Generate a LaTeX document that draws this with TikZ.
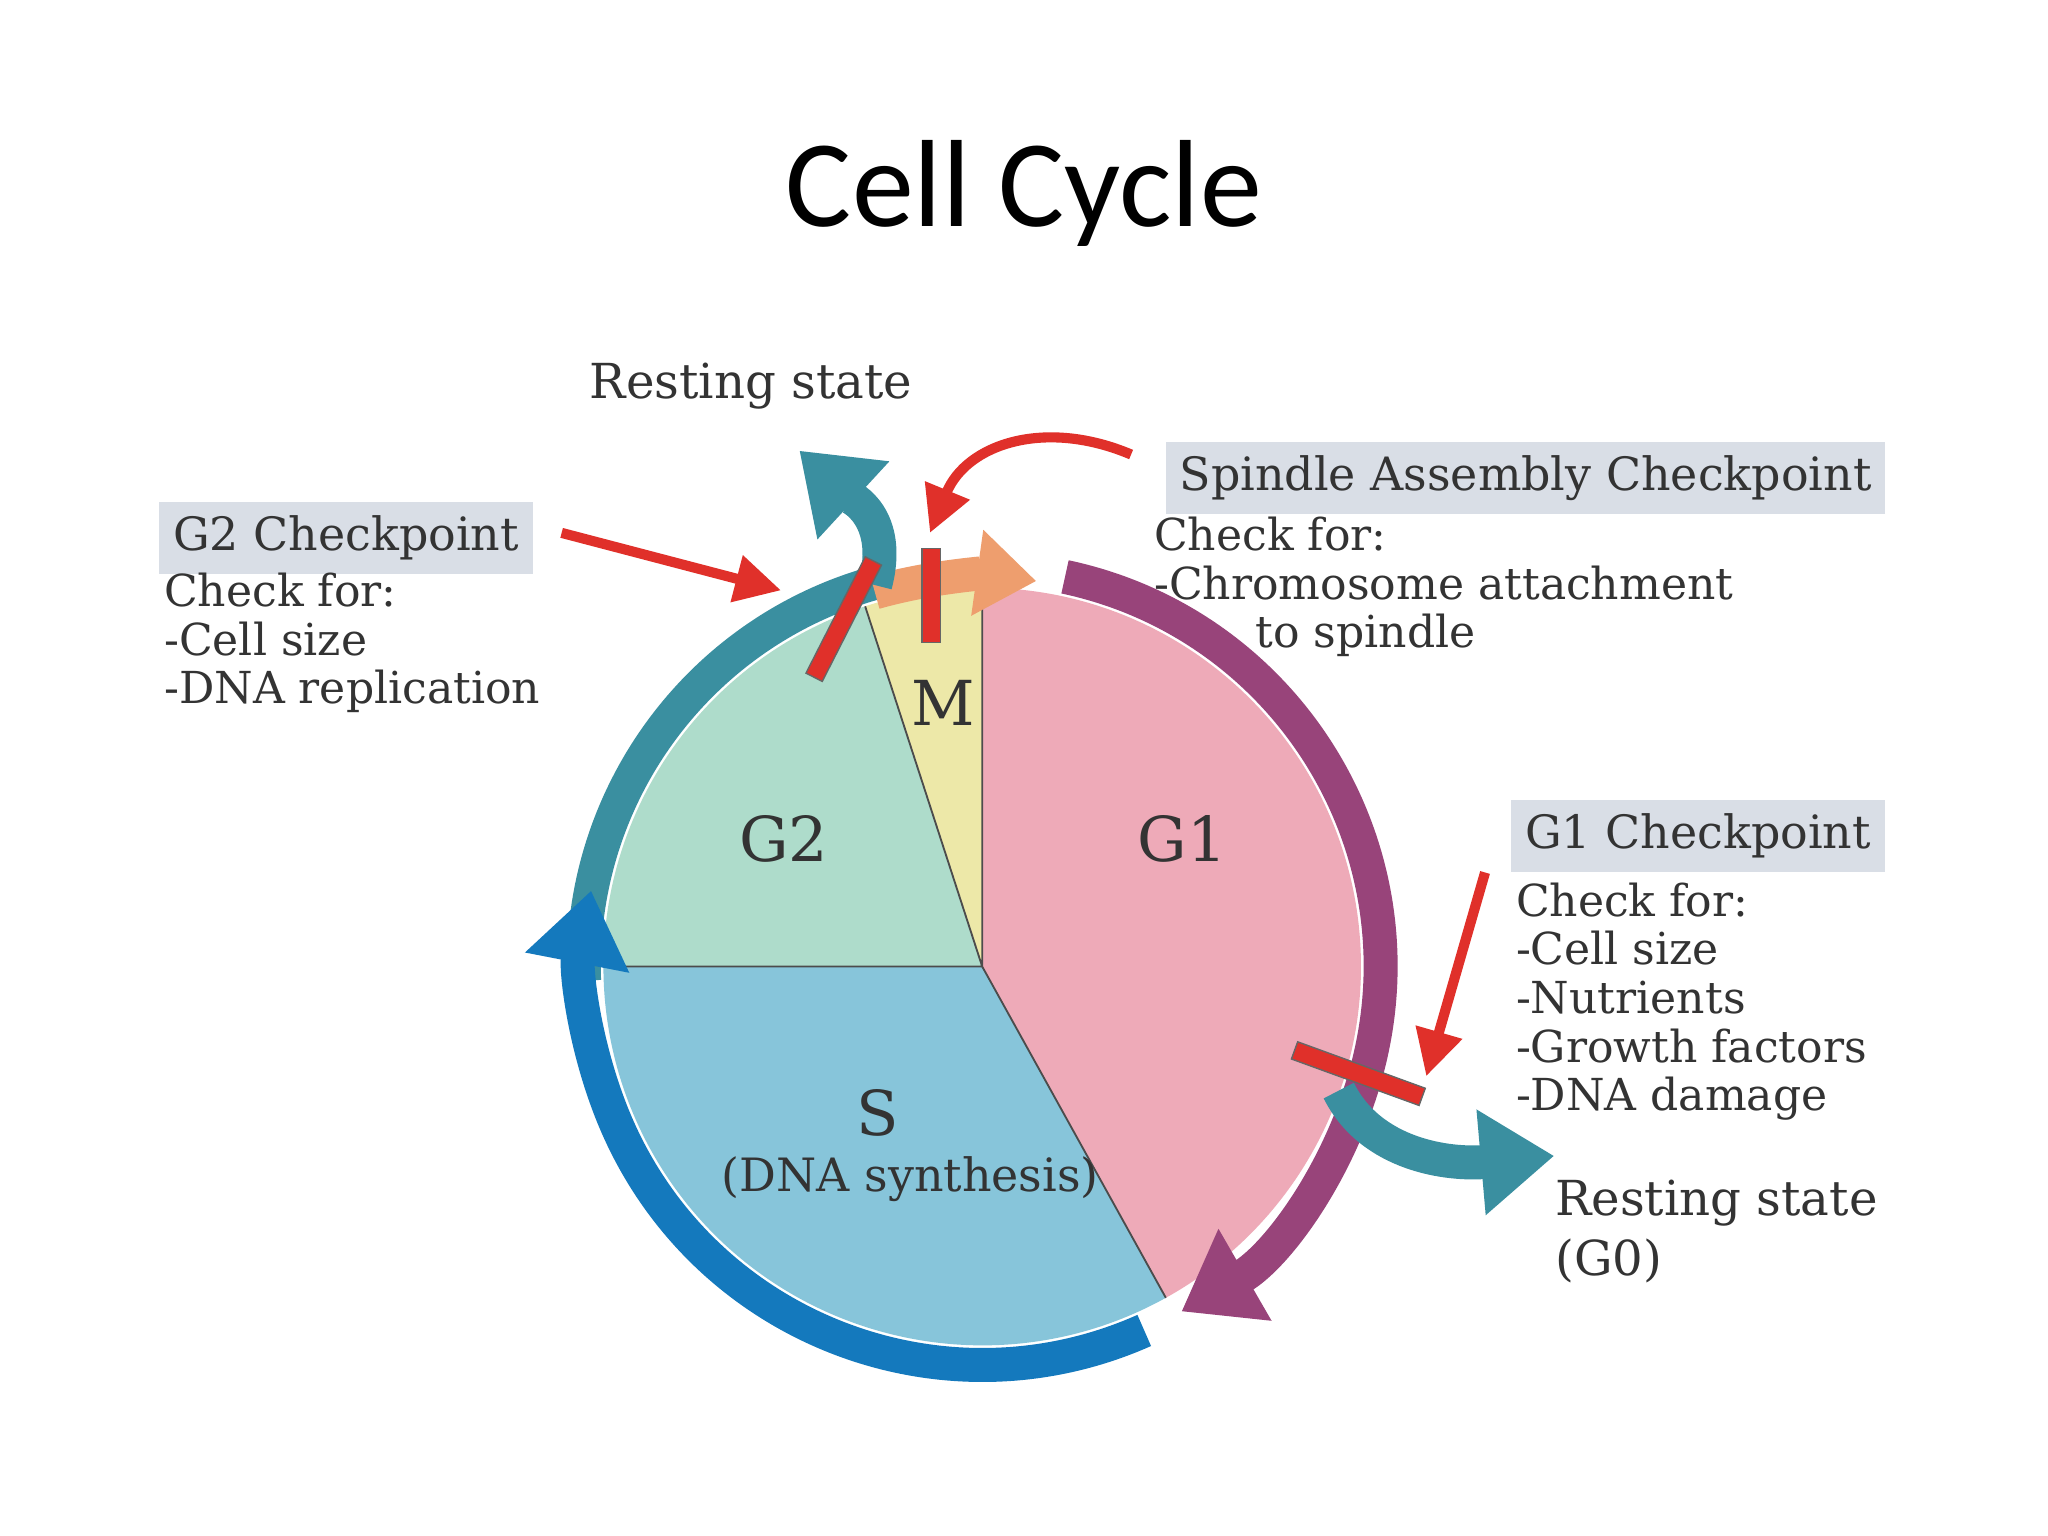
\documentclass[tikz,border=0pt]{standalone}
\usepackage{fontspec}
\setmainfont{DejaVu Serif}
\newfontfamily\titlefont{Carlito}
\usetikzlibrary{arrows.meta}
\definecolor{cM}{HTML}{EDE8A8}
\definecolor{cGtwo}{HTML}{AEDCCB}
\definecolor{cS}{HTML}{87C5DA}
\definecolor{cGone}{HTML}{EEAAB8}
\definecolor{teal}{HTML}{3A8FA0}
\definecolor{blueR}{HTML}{1479BD}
\definecolor{purp}{HTML}{98447A}
\definecolor{orng}{HTML}{EE9E6E}
\definecolor{redA}{HTML}{E0302A}
\definecolor{boxg}{HTML}{D9DEE6}
\begin{document}
\begin{tikzpicture}[x=0.01cm,y=0.01cm,
  ring/.style={line width=7.4pt},
  tip/.style={-{Triangle[width=22pt,length=16pt]}},
  bar/.style={draw=black!60,fill=redA,line width=0.3pt},
  redarrow/.style={redA,line width=2.2pt,-{Triangle[width=10pt,length=10pt]}},
  hdr/.style={fill=boxg,text=black!80,font=\fontsize{10}{12}\selectfont,inner sep=3pt},
  txt/.style={text=black!80,font=\fontsize{9.6}{10.6}\selectfont,align=left,anchor=north west,inner sep=0pt},
  phase/.style={text=black!80,font=\fontsize{13.5}{16}\selectfont}]
\useasboundingbox[fill=white] (0,0) rectangle (1568,-1176);
\node[font=\titlefont\fontsize{27}{30}\selectfont] (title) at (784,-148) {Cell Cycle};

\coordinate (c) at (752,-740);
% pie
\fill[cGone] (c) -- ++(90:290) arc (90:-61:290) -- cycle;
\fill[cS] (c) -- ++(-61:290) arc (-61:-180:290) -- cycle;
\fill[cGtwo] (c) -- ++(180:290) arc (180:108:290) -- cycle;
\fill[cM] (c) -- ++(108:290) arc (108:90:290) -- cycle;
\draw[black!70,line width=0.4pt] (c) -- ++(90:290) (c) -- ++(-61:290) (c) -- ++(180:290) (c) -- ++(108:290);

% rings
\draw[ring,teal] ([shift={(c)}]105:305) arc (105:182:305);
\draw[ring,blueR,tip] ([shift={(c)}]-66:305) arc (-66:-191:305);
\draw[ring,purp,tip] ([shift={(c)}]78:305) arc (78:-60:305);
\draw[ring,orng,-{Triangle[width=18pt,length=13pt]}] ([shift={(c)}]106:298) arc (106:82:298);

% resting arrows
\draw[ring,teal,tip] (670,-448) .. controls (684,-395) and (650,-380) .. (612,-345);
\draw[ring,teal,tip] (1025,-835) .. controls (1050,-885) and (1110,-892) .. (1190,-885);

% checkpoint bars
\draw[bar,rotate around={63:(646,-474)}] (596,-481) rectangle (696,-467);
\draw[bar] (706,-420) rectangle (720,-492);
\draw[bar,rotate around={-20:(1040,-822)}] (988,-829) rectangle (1092,-815);

% labels
\node[phase] (m) at (722,-538) {M};
\node[phase] (g2) at (600,-642) {G2};
\node[phase] (g1) at (905,-642) {G1};
\node[phase] (s) at (672,-852) {S};
\node[text=black!80,font=\fontsize{10}{12}\selectfont] (dna) at (697,-903) {(DNA synthesis)};

\node[text=black!80,font=\fontsize{10.5}{12}\selectfont] (rest1) at (575,-296) {Resting state};
\node[text=black!80,font=\fontsize{10.5}{13}\selectfont,align=left,anchor=north west,inner sep=0pt] (rest2) at (1190,-903) {Resting state\\(G0)};

\node[hdr] (g2h) at (265,-412) {G2 Checkpoint};
\node[txt] (g2t) at (125,-438) {Check for:\\-Cell size\\-DNA replication};
\node[hdr] (sh) at (1168,-366) {Spindle Assembly Checkpoint};
\node[txt] (st) at (883,-395) {Check for:\\-Chromosome attachment\\\hspace*{2.3em}to spindle};
\node[hdr] (g1h) at (1300,-640) {G1 Checkpoint};
\node[txt] (g1t) at (1160,-675) {Check for:\\-Cell size\\-Nutrients\\-Growth factors\\-DNA damage};

% red arrows
\coordinate (a1) at (430,-408);
\coordinate (a2) at (598,-452);
\draw[redarrow] (a1) -- (a2);
\coordinate (b1) at (866,-348);
\coordinate (b2) at (712,-408);
\draw[redarrow] (b1) .. controls (800,-320) and (740,-340) .. (b2);
\coordinate (d1) at (1137,-668);
\coordinate (d2) at (1092,-824);
\draw[redarrow] (d1) -- (d2);
\end{tikzpicture}
\end{document}
